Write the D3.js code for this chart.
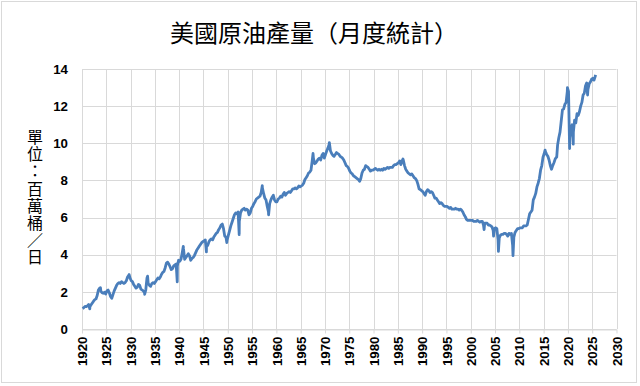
<!DOCTYPE html>
<html>
<head>
<meta charset="utf-8">
<script src="https://cdn.jsdelivr.net/npm/d3@7"></script>
<style>
  body { margin: 0; background: #fff; }
  .tick text { font-family: "Liberation Sans", Arial, sans-serif; font-weight: bold; font-size: 13.3px; fill: #000; }
</style>
</head>
<body>
<div id="chart"></div>
<script>
// US crude oil production, quarterly readings + monthly shocks (million bbl/day)
var xTicks = d3.range(1920, 2031, 5);
var yTicks = [0, 2, 4, 6, 8, 10, 12, 14];

var q1920s = [1.10, 1.15, 1.22, 1.20, 1.25, 1.32, 1.20, 1.30, 1.40, 1.50, 1.58, 1.62,
  1.80, 2.10, 2.20, 2.05, 1.95, 1.92, 1.98, 1.88, 2.05, 2.10, 1.95, 1.75,
  1.65, 1.85, 2.05, 2.20, 2.35, 2.45, 2.50, 2.45, 2.55, 2.50, 2.45, 2.50,
  2.60, 2.80, 2.90, 2.75];
var q1930s = [2.60, 2.55, 2.40, 2.30, 2.20, 2.25, 2.40, 2.35, 2.15, 2.10, 2.05, 1.95,
  2.10, 2.75, 2.45, 2.35, 2.30, 2.45, 2.50, 2.45, 2.55, 2.65, 2.75, 2.70,
  2.80, 2.95, 3.05, 3.10, 3.30, 3.55, 3.60, 3.50, 3.35, 3.20, 3.25, 3.40,
  3.45, 3.50, 3.40, 3.70];
var q1940s = [3.65, 3.75, 4.10, 4.35, 3.75, 3.85, 3.95, 4.05, 3.95, 3.70, 3.80, 3.85,
  3.95, 4.10, 4.25, 4.35, 4.45, 4.55, 4.65, 4.70, 4.75, 4.80, 4.55, 4.50,
  4.70, 4.80, 4.85, 4.80, 4.95, 5.05, 5.15, 5.20, 5.35, 5.45, 5.60, 5.65,
  5.40, 5.00, 4.95, 4.80];
var q1950s = [5.05, 5.30, 5.55, 5.75, 5.95, 6.15, 6.25, 6.20, 6.30, 5.80, 6.25, 6.40,
  6.45, 6.50, 6.40, 6.45, 6.40, 6.15, 6.25, 6.50, 6.60, 6.75, 6.85, 7.00,
  7.05, 7.10, 7.15, 7.35, 7.60, 7.30, 7.05, 6.95, 6.60, 6.30, 6.75, 6.95,
  7.10, 7.20, 6.95, 6.85];
var q1960s = [6.85, 7.00, 7.05, 7.15, 7.10, 7.25, 7.35, 7.20, 7.30, 7.35, 7.40, 7.35,
  7.45, 7.55, 7.55, 7.60, 7.55, 7.60, 7.70, 7.65, 7.70, 7.75, 7.85, 8.05,
  8.15, 8.25, 8.40, 8.45, 8.55, 9.05, 9.20, 8.90, 8.95, 9.05, 9.15, 9.20,
  9.10, 9.35, 9.45, 9.20];
var q1970s = [9.40, 9.60, 9.75, 9.95, 9.60, 9.45, 9.35, 9.30, 9.40, 9.50, 9.45, 9.40,
  9.30, 9.25, 9.20, 9.10, 8.95, 8.80, 8.75, 8.65, 8.50, 8.40, 8.35, 8.25,
  8.20, 8.15, 8.10, 8.05, 7.95, 8.10, 8.40, 8.55, 8.60, 8.80, 8.75, 8.70,
  8.60, 8.50, 8.55, 8.55];
var q1980s = [8.60, 8.65, 8.60, 8.55, 8.60, 8.55, 8.60, 8.55, 8.65, 8.60, 8.65, 8.70,
  8.65, 8.70, 8.70, 8.70, 8.80, 8.85, 8.85, 8.90, 8.95, 9.05, 8.85, 9.05,
  9.10, 8.80, 8.60, 8.50, 8.40, 8.35, 8.30, 8.35, 8.25, 8.15, 8.10, 8.00,
  7.80, 7.55, 7.50, 7.45];
var q1990s = [7.40, 7.30, 7.20, 7.40, 7.50, 7.45, 7.35, 7.40, 7.35, 7.20, 7.05, 7.05,
  6.95, 6.85, 6.75, 6.80, 6.75, 6.65, 6.60, 6.60, 6.60, 6.55, 6.50, 6.55,
  6.45, 6.45, 6.45, 6.50, 6.45, 6.45, 6.40, 6.45, 6.40, 6.30, 6.15, 6.05,
  5.90, 5.85, 5.85, 5.85];
var q2000s = [5.85, 5.85, 5.80, 5.80, 5.80, 5.85, 5.80, 5.75, 5.80, 5.80, 5.60, 5.70,
  5.70, 5.70, 5.60, 5.60, 5.55, 5.50, 5.30, 5.40, 5.45, 5.40, 4.80, 4.90,
  5.05, 5.10, 5.10, 5.15, 5.15, 5.10, 5.00, 5.15, 5.10, 5.15, 4.50, 4.95,
  5.20, 5.30, 5.40, 5.40];
var q2010s = [5.45, 5.45, 5.45, 5.55, 5.55, 5.55, 5.60, 5.90, 6.20, 6.30, 6.40, 6.95,
  7.10, 7.30, 7.65, 7.85, 8.10, 8.55, 8.80, 9.25, 9.45, 9.55, 9.40, 9.30,
  9.10, 8.80, 8.60, 8.80, 8.95, 9.15, 9.25, 9.90, 10.30, 10.60, 11.20, 11.80,
  11.85, 12.10, 12.20, 12.80];
var q2020s = [12.80, 10.30, 10.80, 11.00, 10.60, 11.25, 11.10, 11.60, 11.50, 11.70, 12.00, 12.20,
  12.60, 12.70, 13.10, 13.25, 12.90, 13.20, 13.30, 13.45, 13.50, 13.40, 13.60];

// single-month spikes and dips [decimal year, value]
var shocks = [[1921.6, 1.08], [1923.8, 2.22], [1929.7, 2.93], [1932.9, 1.87], [1933.5, 2.85],
  [1939.6, 2.54], [1940.85, 4.45], [1945.6, 4.15], [1949.8, 4.65], [1952.35, 5.08],
  [1957.1, 7.72], [1958.4, 6.15], [1967.55, 9.45], [1970.9, 10.04], [1986.05, 9.15],
  [2002.75, 5.35], [2004.7, 5.00], [2005.7, 4.18], [2008.7, 3.95], [2015.3, 9.63],
  [2017.7, 9.25], [2019.9, 13.0], [2020.35, 9.72], [2021.1, 9.95], [2024.05, 12.6],
  [2025.7, 13.68]];

var decades = [[1920, q1920s], [1930, q1930s], [1940, q1940s], [1950, q1950s], [1960, q1960s],
  [1970, q1970s], [1980, q1980s], [1990, q1990s], [2000, q2000s], [2010, q2010s], [2020, q2020s]];

var series = [];
decades.forEach(function(d) {
  d[1].forEach(function(v, i) {
    series.push({ year: d[0] + i * 0.25 + 0.125, value: v });
  });
});
shocks.forEach(function(s) { series.push({ year: s[0], value: s[1] }); });
series.sort(function(a, b) { return a.year - b.year; });

// svg
var svgWidth = 640;
var svgHeight = 386;
var margin = { top: 69, right: 23.5, bottom: 57, left: 82 };
var width = svgWidth - margin.left - margin.right;
var height = svgHeight - margin.top - margin.bottom;

var svg = d3.select("#chart")
  .append("svg")
  .attr("width", svgWidth)
  .attr("height", svgHeight);

// chart border
svg.append("rect")
  .attr("x", 1.5)
  .attr("y", 1.5)
  .attr("width", 635)
  .attr("height", 381)
  .attr("fill", "#fff")
  .attr("stroke", "#d9d9d9");

// title
svg.append("text")
  .attr("x", 314)
  .attr("y", 42)
  .attr("text-anchor", "middle")
  .style("font-family", "'Noto Sans CJK TC', sans-serif")
  .style("font-size", "24px")
  .attr("fill", "#000")
  .text("美國原油產量（月度統計）");

// vertical y-axis label (upright chars, top to bottom)
svg.append("text")
  .attr("x", 35)
  .attr("y", 129)
  .style("writing-mode", "vertical-rl")
  .style("text-orientation", "upright")
  .style("letter-spacing", "1.2px")
  .style("font-family", "'Noto Sans CJK TC', sans-serif")
  .style("font-size", "16px")
  .attr("fill", "#000")
  .text("單位：百萬桶／日");

var chartGroup = svg.append("g")
  .attr("transform", `translate(${margin.left}, ${margin.top})`);

var xScale = d3.scaleLinear()
  .domain([1920, 2030])
  .range([0, width]);

var yScale = d3.scaleLinear()
  .domain([0, 14])
  .range([height, 0]);

// gridlines
chartGroup.append("g")
  .selectAll("line")
  .data(yTicks)
  .enter()
  .append("line")
  .attr("x1", 0)
  .attr("x2", width)
  .attr("y1", d => Math.round(yScale(d)) + 0.5)
  .attr("y2", d => Math.round(yScale(d)) + 0.5)
  .attr("stroke", "#d9d9d9");

chartGroup.append("g")
  .selectAll("line")
  .data(xTicks)
  .enter()
  .append("line")
  .attr("x1", d => Math.round(xScale(d)) + 0.5)
  .attr("x2", d => Math.round(xScale(d)) + 0.5)
  .attr("y1", 0)
  .attr("y2", height)
  .attr("stroke", "#d9d9d9");

// axes
var xAxis = chartGroup.append("g")
  .attr("transform", `translate(0, ${Math.round(height) + 0.5})`)
  .call(d3.axisBottom(xScale).tickValues(xTicks).tickFormat(d3.format("d")).tickSize(4).tickSizeOuter(0));
xAxis.select(".domain").attr("stroke", "#d9d9d9");
xAxis.selectAll(".tick line").attr("stroke", "#d9d9d9");
xAxis.selectAll(".tick text")
  .attr("transform", "rotate(-90)")
  .attr("text-anchor", "end")
  .attr("x", -7)
  .attr("y", 0)
  .attr("dy", "0.35em");

var yAxis = chartGroup.append("g")
  .call(d3.axisLeft(yScale).tickValues(yTicks).tickSize(0).tickPadding(14));
yAxis.select(".domain").remove();

// line
var line = d3.line()
  .x(d => xScale(d.year))
  .y(d => yScale(d.value));

chartGroup.append("path")
  .datum(series)
  .attr("fill", "none")
  .attr("stroke", "#4a7ebb")
  .attr("stroke-width", 2.8)
  .attr("stroke-linejoin", "round")
  .attr("d", line);
</script>
</body>
</html>
